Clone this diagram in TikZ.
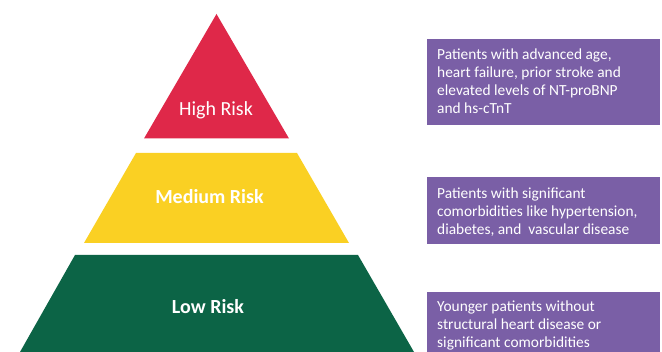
\documentclass[tikz,border=0pt]{standalone}
\usepackage{fontspec}
\setmainfont{Carlito}
\definecolor{riskred}{HTML}{DF2849}
\definecolor{riskyellow}{HTML}{FAD023}
\definecolor{riskgreen}{HTML}{0C6446}
\definecolor{boxpurple}{HTML}{7A5FA6}
\begin{document}
\begin{tikzpicture}[x=1pt,y=-1pt,
  tierlabel/.style={text=white,font=\fontsize{20}{24}\selectfont,anchor=base,inner sep=0pt},
  boldlabel/.style={tierlabel,font=\fontsize{20}{24}\selectfont\bfseries},
  infobox/.style={fill=boxpurple,draw=none},
  infotext/.style={text=white,font=\fontsize{15.4}{17.9}\selectfont,align=left,anchor=north west,inner sep=0pt}]
\useasboundingbox (0,0) rectangle (662,352);
\fill[white] (0,0) rectangle (662,352);
% tiers
\fill[riskred] (216.5,14) -- (289,138.5) -- (144,138.5) -- cycle;
\fill[riskyellow] (136,153) -- (297,153) -- (349,243) -- (84,243) -- cycle;
\fill[riskgreen] (75,255) -- (358,255) -- (414,352) -- (20,352) -- cycle;
\node[tierlabel] (high) at (216,116) {High Risk};
\node[boldlabel] (medium) at (209.5,204) {Medium Risk};
\node[boldlabel] (low) at (208,314) {Low Risk};
% boxes
\fill[infobox] (427,39) rectangle (660,125);
\fill[infobox] (427,177) rectangle (660,244);
\fill[infobox] (427,292) rectangle (660,352);
\node[infotext] (t1) at (437,49) {Patients with advanced age,\\heart failure, prior stroke and\\elevated levels of NT-proBNP\\and hs-cTnT};
\node[infotext] (t2) at (437,187.5) {Patients with significant\\comorbidities like hypertension,\\diabetes, and\ \ vascular disease};
\node[infotext] (t3) at (437,300.5) {Younger patients without\\structural heart disease or\\significant comorbidities};
\end{tikzpicture}
\end{document}
